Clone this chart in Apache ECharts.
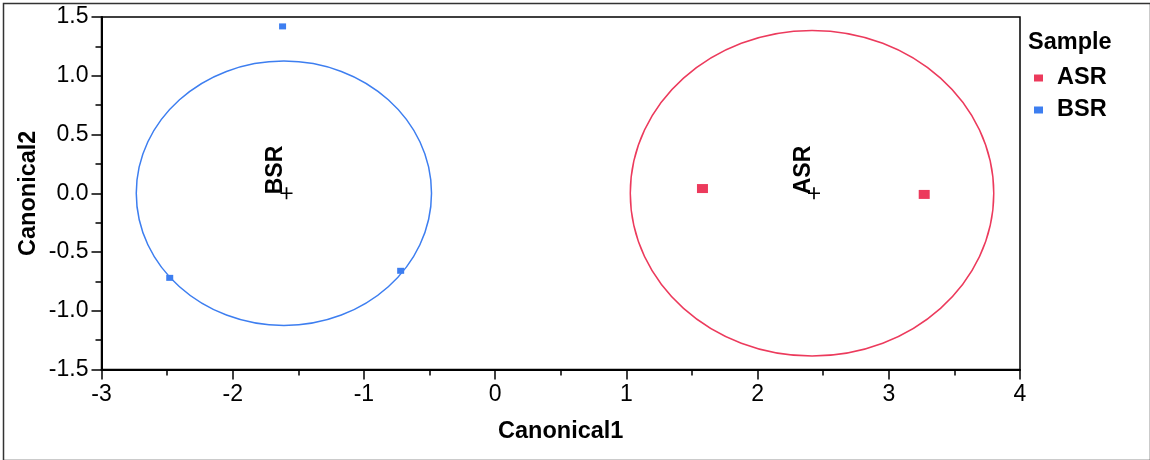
<!DOCTYPE html>
<html>
<head>
<meta charset="utf-8">
<script src="https://cdn.jsdelivr.net/npm/echarts@6/dist/echarts.min.js"></script>
<style>html,body{margin:0;padding:0;background:#fff}#c{width:1150px;height:460px}</style>
</head>
<body>
<div id="c"></div>
<script>
// ---- data ----
const sampleNames = ['ASR', 'BSR'];
const asrX = [1.58, 3.27];
const asrY = [0.04, -0.01];
const bsrX = [-1.62, -2.48, -0.72];
const bsrY = [1.42, -0.72, -0.66];
const centroidX = [2.43, -1.59];
const centroidY = [0.0, 0.0];
const circleRadius = [1.385, 1.125];
const circleX = [2.415, -1.61];
const xTicks = [-3, -2, -1, 0, 1, 2, 3, 4];
const yTicks = [-1.5, -1.0, -0.5, 0.0, 0.5, 1.0, 1.5];

const RED = '#EC3A5C';
const BLUE = '#3D7EF0';
const colors = [RED, BLUE];
const FONT = 'Liberation Sans, Arial, sans-serif';

const chart = echarts.init(document.getElementById('c'), null, {renderer: 'canvas'});

const zip = (xs, ys) => xs.map((x, i) => [x, ys[i]]);

const option = {
  animation: false,
  textStyle: {fontFamily: FONT},
  graphic: [{
    type: 'rect', left: 1, top: 1, silent: true,
    shape: {width: 1147, height: 457},
    style: {fill: 'none', stroke: '#333', lineWidth: 1.5}
  }],
  title: {
    text: 'Sample', left: 1023, top: 26,
    textStyle: {fontFamily: FONT, fontSize: 23.5, fontWeight: 'bold', color: '#000'}
  },
  legend: {
    data: sampleNames.map(n => ({name: n, icon: 'rect'})),
    orient: 'vertical', left: 1029, top: 61,
    itemWidth: 9, itemHeight: 7, itemGap: 8,
    itemStyle: {opacity: 1},
    textStyle: {fontFamily: FONT, fontSize: 23.5, fontWeight: 'bold', color: '#000', padding: [0, 0, 0, 9]}
  },
  grid: {left: 101.5, right: 130, top: 17, bottom: 90.5, show: true, borderColor: '#000', borderWidth: 1.5, containLabel: false},
  xAxis: {
    type: 'value', min: xTicks[0], max: xTicks[xTicks.length - 1], interval: 1,
    name: 'Canonical1', nameLocation: 'middle', nameGap: 50, nameMoveOverlap: false,
    nameTextStyle: {fontFamily: FONT, fontSize: 23.5, fontWeight: 'bold', color: '#000'},
    axisLine: {show: true, onZero: false, lineStyle: {color: '#000', width: 2}},
    axisTick: {show: true, length: 10, lineStyle: {color: '#000', width: 1.5}},
    minorTick: {show: true, splitNumber: 2, length: 6, lineStyle: {color: '#000', width: 1.5}},
    axisLabel: {fontFamily: FONT, fontSize: 23, color: '#000', margin: 14},
    splitLine: {show: false}
  },
  yAxis: {
    type: 'value', min: yTicks[0], max: yTicks[yTicks.length - 1], interval: 0.5,
    name: 'Canonical2', nameLocation: 'middle', nameGap: 61, nameMoveOverlap: false,
    nameTextStyle: {fontFamily: FONT, fontSize: 23.5, fontWeight: 'bold', color: '#000'},
    axisLine: {show: true, onZero: false, lineStyle: {color: '#000', width: 2}},
    axisTick: {show: true, length: 10, lineStyle: {color: '#000', width: 1.5}},
    minorTick: {show: true, splitNumber: 2, length: 6, lineStyle: {color: '#000', width: 1.5}},
    axisLabel: {fontFamily: FONT, fontSize: 23, color: '#000', margin: 13, formatter: v => v.toFixed(1)},
    splitLine: {show: false}
  },
  series: [
    {
      name: 'ASR', type: 'scatter', symbol: 'rect', symbolSize: [11, 9],
      itemStyle: {color: RED, opacity: 1}, data: zip(asrX, asrY), z: 5
    },
    {
      name: 'BSR', type: 'scatter', symbol: 'rect', symbolSize: [7, 6],
      itemStyle: {color: BLUE, opacity: 1}, data: zip(bsrX, bsrY), z: 5
    },
    {
      name: 'circles', type: 'custom', silent: true, z: 3,
      data: sampleNames.map((n, i) => [circleX[i], centroidY[i], circleRadius[i], i]),
      renderItem: (params, api) => {
        const c = api.coord([api.value(0), api.value(1)]);
        const s = api.size([api.value(2), api.value(2)]);
        return {
          type: 'ellipse',
          shape: {cx: c[0], cy: c[1], rx: s[0], ry: s[1]},
          style: {fill: 'none', stroke: colors[api.value(3)], lineWidth: 1.5}
        };
      }
    },
    {
      name: 'centroids', type: 'scatter', silent: true, z: 6,
      symbol: 'path://M4.3,0h1.4v10h-1.4z M0,4.3h10v1.4h-10z', symbolSize: 12,
      itemStyle: {color: '#000', opacity: 1},
      data: sampleNames.map((n, i) => ({name: n, value: [centroidX[i], centroidY[i]]})),
      label: {
        show: true, formatter: p => p.name, rotate: 90,
        position: [7, 7], align: 'left', verticalAlign: 'bottom',
        fontFamily: FONT, fontSize: 23, fontWeight: 'bold', color: '#000', opacity: 1
      }
    }
  ]
};
chart.setOption(option);
</script>
</body>
</html>
